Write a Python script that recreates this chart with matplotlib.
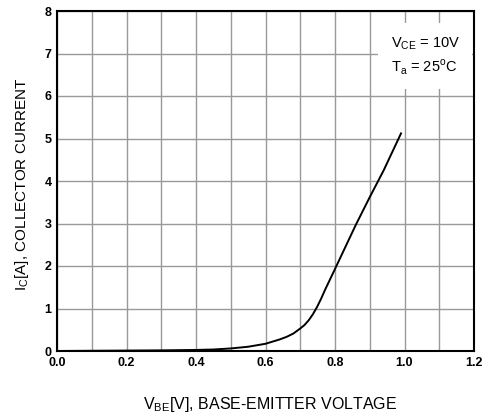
import matplotlib
matplotlib.use("Agg")
import matplotlib.pyplot as plt
from matplotlib.ticker import MultipleLocator

plt.rcParams["font.family"] = ["Liberation Sans", "DejaVu Sans"]

# V_BE [V] vs I_C [A]
vbe = [0.0, 0.1, 0.2, 0.3, 0.4, 0.45, 0.5, 0.55, 0.6, 0.64, 0.66, 0.68, 0.7,
       0.712, 0.724, 0.736, 0.748, 0.76, 0.772, 0.786, 0.8, 0.83, 0.86, 0.9,
       0.94, 0.99]
ic = [0.0, 0.005, 0.01, 0.015, 0.025, 0.035, 0.06, 0.10, 0.17, 0.27, 0.33,
      0.41, 0.53, 0.61, 0.72, 0.86, 1.03, 1.23, 1.45, 1.69, 1.93, 2.45, 2.97,
      3.62, 4.25, 5.12]

xticks = [0.0, 0.2, 0.4, 0.6, 0.8, 1.0, 1.2]
yticks = [0, 1, 2, 3, 4, 5, 6, 7, 8]

fig = plt.figure(figsize=(4.84, 4.18), dpi=100)
ax = fig.add_axes([57 / 484, 1 - 351 / 418, 417 / 484, 340 / 418])

ax.plot(vbe, ic, color="black", lw=1.4, zorder=3, solid_joinstyle="round")

ax.set_xlim(0, 1.2)
ax.set_ylim(0, 8)
ax.set_xticks(xticks)
ax.set_xticklabels(["%.1f" % v for v in xticks], fontweight="bold", fontsize=9)
ax.set_yticks(yticks)
ax.set_yticklabels([str(v) for v in yticks], fontweight="bold", fontsize=9)
ax.xaxis.set_minor_locator(MultipleLocator(0.1))
ax.grid(which="both", color="0.6", lw=1.0)
ax.tick_params(which="both", length=0, pad=4)
for s in ax.spines.values():
    s.set_linewidth(1.5)

ax.set_xlabel("V$_{\\mathregular{BE}}$[V], BASE-EMITTER VOLTAGE", fontsize=11.5)
ax.xaxis.set_label_coords(0.511, -0.128)
ax.set_ylabel("I$_{\\mathregular{C}}$[A], COLLECTOR CURRENT", fontsize=11)
ax.yaxis.set_label_coords(-0.062, 0.49)

ax.text(0.80, 0.93, "V$_{\\mathregular{CE}}$ = 10V\nT$_{\\mathregular{a}}$ = 25$^{\\mathregular{o}}$C",
        transform=ax.transAxes, ha="left", va="top", fontsize=10.5, linespacing=1.4,
        bbox=dict(facecolor="white", edgecolor="none", pad=9), zorder=4)

fig.savefig("out.png", dpi=100)
